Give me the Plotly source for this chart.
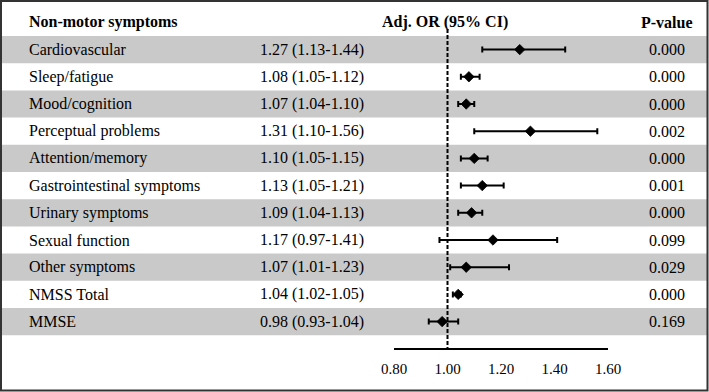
import plotly.graph_objects as go

W, H = 709, 392

symptoms = ["Cardiovascular", "Sleep/fatigue", "Mood/cognition", "Perceptual problems",
            "Attention/memory", "Gastrointestinal symptoms", "Urinary symptoms",
            "Sexual function", "Other symptoms", "NMSS Total", "MMSE"]
odds_ratio = [1.27, 1.08, 1.07, 1.31, 1.10, 1.13, 1.09, 1.17, 1.07, 1.04, 0.98]
ci_low = [1.13, 1.05, 1.04, 1.10, 1.05, 1.05, 1.04, 0.97, 1.01, 1.02, 0.93]
ci_high = [1.44, 1.12, 1.10, 1.56, 1.15, 1.21, 1.13, 1.41, 1.23, 1.05, 1.04]
p_values = ["0.000", "0.000", "0.000", "0.002", "0.000", "0.001", "0.000",
            "0.099", "0.029", "0.000", "0.169"]
tick_vals = [0.80, 1.00, 1.20, 1.40, 1.60]
tick_text = ["0.80", "1.00", "1.20", "1.40", "1.60"]

FONT = "Liberation Serif, Times New Roman, serif"
ROW_TOP = 36.0
ROW_H = 27.2


def px_to_row(py):
    return (py - ROW_TOP - ROW_H / 2) / ROW_H


n = len(symptoms)
rows = list(range(n))

fig = go.Figure()
fig.add_trace(go.Scatter(
    x=odds_ratio, y=rows, mode="markers",
    marker=dict(symbol="diamond", size=8, color="black", line=dict(width=0.8, color="black")),
    error_x=dict(type="data", symmetric=False,
                 array=[h - o for h, o in zip(ci_high, odds_ratio)],
                 arrayminus=[o - l for o, l in zip(odds_ratio, ci_low)],
                 color="black", thickness=2, width=3),
    showlegend=False, hoverinfo="skip", cliponaxis=False,
))

shapes = []
for i in rows:
    if i % 2 == 0:
        shapes.append(dict(type="rect", xref="paper", yref="y", layer="below",
                           x0=2 / W, x1=707 / W, y0=i - 0.5, y1=i + 0.5,
                           fillcolor="#c9c9c9", line=dict(width=0)))
# reference line at OR = 1
shapes.append(dict(type="line", xref="x", yref="y", x0=1.0, x1=1.0,
                   y0=px_to_row(29), y1=px_to_row(349),
                   line=dict(color="black", width=2, dash="4px,2px")))
# outer border
shapes.append(dict(type="rect", xref="paper", yref="paper",
                   x0=1 / W, x1=(W - 1.5) / W, y0=1.5 / H, y1=1 - 1 / H,
                   line=dict(color="#333333", width=2)))

ann = []
ann.append(dict(text="<b>Non-motor symptoms</b>", xref="paper", yref="y",
                x=27 / W, y=px_to_row(22), xanchor="left", yanchor="middle",
                showarrow=False, font=dict(size=16, family=FONT, color="black")))
ann.append(dict(text="<b>Adj. OR (95% CI)</b>", xref="paper", yref="y",
                x=445 / W, y=px_to_row(22), xanchor="center", yanchor="middle",
                showarrow=False, font=dict(size=16, family=FONT, color="black")))
ann.append(dict(text="<b>P-value</b>", xref="paper", yref="y",
                x=667 / W, y=px_to_row(22), xanchor="center", yanchor="middle",
                showarrow=False, font=dict(size=16, family=FONT, color="black")))
for i in rows:
    ann.append(dict(text=symptoms[i], xref="paper", yref="y", x=27 / W, y=i,
                    xanchor="left", yanchor="middle", showarrow=False,
                    font=dict(size=16, family=FONT, color="black")))
    ann.append(dict(text=f"{odds_ratio[i]:.2f} ({ci_low[i]:.2f}-{ci_high[i]:.2f})",
                    xref="paper", yref="y", x=258 / W, y=i,
                    xanchor="left", yanchor="middle", showarrow=False,
                    font=dict(size=16, family=FONT, color="black")))
    ann.append(dict(text=p_values[i], xref="paper", yref="y", x=667 / W, y=i,
                    xanchor="center", yanchor="middle", showarrow=False,
                    font=dict(size=16, family=FONT, color="black")))

fig.update_layout(
    width=W, height=H, autosize=False, margin=dict(l=0, r=0, t=0, b=0, pad=0),
    paper_bgcolor="white", plot_bgcolor="rgba(0,0,0,0)",
    shapes=shapes, annotations=ann,
    xaxis=dict(domain=[394 / W, 608 / W], range=[0.8, 1.6], anchor="free",
               position=1 - 349 / H, showline=True, linecolor="black", linewidth=2,
               tickvals=tick_vals, ticktext=tick_text, ticks="", showgrid=False,
               zeroline=False, ticklabelstandoff=6, automargin=False,
               tickfont=dict(size=15, family=FONT, color="black")),
    yaxis=dict(domain=[0, 1], range=[px_to_row(H), px_to_row(0)], visible=False,
               showgrid=False, zeroline=False, automargin=False),
)

fig.write_html("out.html", config={"responsive": False, "displayModeBar": False})
